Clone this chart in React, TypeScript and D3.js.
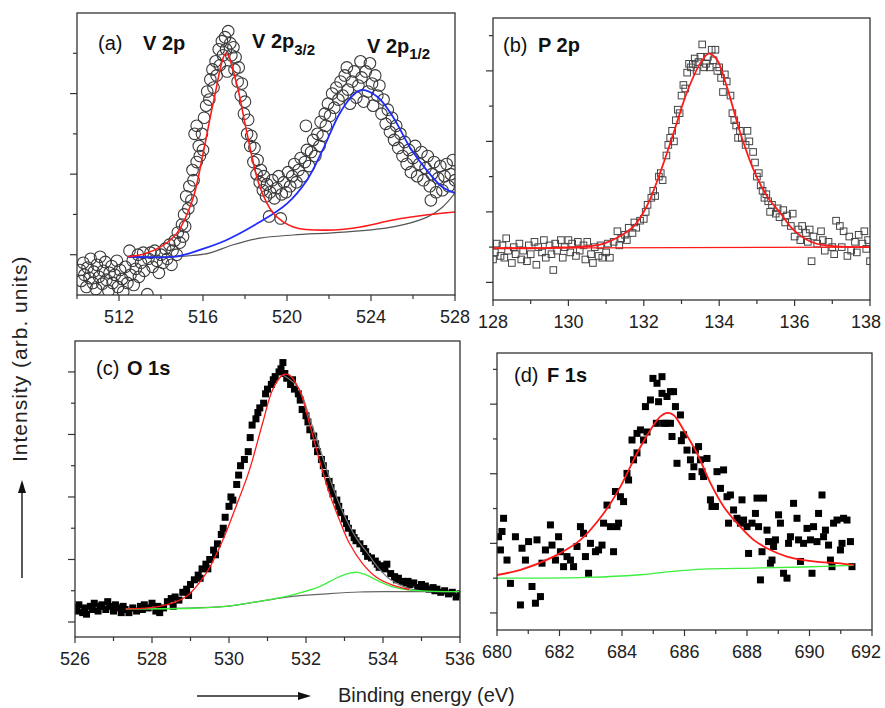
import React from "react";
import * as d3 from "d3";

type Pt = [number, number];

// ---- (a) V 2p ----
const A_X_MAJOR = [512, 516, 520, 524, 528];
const A_X_MINOR = [510, 514, 518, 522, 526];
const A_Y_MAJOR = [1, 3, 5];
const A_Y_MINOR = [2, 4, 6];
const A_POINTS: Pt[] = [
  [510.15, 0.62], [510.2, 0.35], [510.3, 0.8], [510.35, 0.5], [510.45, 0.2], [510.5, 0.68], [510.6, 0.42], [510.65, 0.9],
  [510.75, 0.3], [510.8, 0.58], [510.9, 0.15], [510.95, 0.75], [511.05, 0.45], [511.1, 0.95], [511.2, 0.28], [511.25, 0.6],
  [511.35, 0.82], [511.4, 0.38], [511.5, 0.1], [511.55, 0.55], [511.65, 0.72], [511.7, 0.3], [511.8, 0.5], [511.9, 0.85],
  [511.95, 0.2], [512.05, 0.62], [512.15, 0.4], [512.2, 0.08], [512.3, 0.7], [512.4, 0.3], [512.5, 1.1], [512.55, 0.5],
  [512.65, 0.85], [512.7, 0.25], [512.8, 0.65], [512.9, 1.0], [512.95, 0.45], [513.05, 0.8], [513.15, 1.05], [513.2, 0.6],
  [513.35, 0.02], [513.4, 0.9], [513.5, 1.05], [513.6, 0.7], [513.7, 1.1], [513.8, 0.85], [513.9, 0.55], [514.0, 1.0],
  [514.1, 0.8], [514.2, 1.15], [514.3, 0.9], [514.4, 1.25], [514.5, 0.75], [514.55, 1.1], [514.65, 1.35], [514.75, 1.0],
  [514.8, 1.55], [514.9, 1.3], [515.0, 1.75], [515.05, 1.45],
  [515.1, 2.0], [515.15, 1.7], [515.2, 2.45], [515.3, 2.15], [515.35, 2.7], [515.45, 2.35], [515.5, 3.1], [515.55, 2.85],
  [515.6, 4.0], [515.7, 4.2], [515.7, 3.3], [515.8, 3.7], [515.85, 3.45], [515.95, 4.0], [516.0, 3.6], [516.05, 4.4],
  [516.15, 4.7], [516.2, 5.05], [516.3, 4.85], [516.35, 5.35], [516.45, 5.6], [516.5, 5.15], [516.6, 5.8], [516.65, 5.45],
  [516.75, 6.1], [516.8, 5.7], [516.9, 6.3], [516.95, 5.95], [517.05, 6.4], [517.1, 6.1], [517.15, 5.55], [517.2, 6.55],
  [517.3, 6.25], [517.35, 5.95],
  [517.45, 6.15], [517.5, 5.6], [517.55, 5.9], [517.65, 5.3], [517.7, 5.65], [517.8, 4.95], [517.85, 5.25], [517.95, 4.5],
  [518.0, 4.8], [518.1, 4.0], [518.15, 4.35], [518.25, 3.7], [518.3, 3.95], [518.4, 3.3], [518.45, 3.65], [518.55, 3.0],
  [518.6, 3.35], [518.7, 2.8], [518.75, 3.1], [518.85, 2.6], [518.9, 2.95], [519.0, 2.45], [519.05, 2.75], [519.15, 1.95],
  [519.2, 2.55], [519.3, 2.85], [519.4, 2.4], [519.5, 2.65], [519.6, 2.95], [519.7, 1.9], [519.75, 2.5], [519.85, 2.8],
  [519.95, 2.55], [520.05, 3.05], [520.15, 2.7], [520.25, 2.95], [520.35, 3.25], [520.45, 2.8], [520.55, 3.1], [520.65, 3.4],
  [520.75, 2.95], [520.85, 3.3], [520.9, 4.2], [520.95, 3.6], [521.05, 3.2], [521.15, 3.55], [521.25, 3.85], [521.35, 3.45],
  [521.45, 4.0], [521.55, 3.7], [521.6, 4.3], [521.7, 3.95], [521.8, 4.5], [521.85, 4.2], [521.95, 4.75], [522.05, 4.45],
  [522.15, 5.0], [522.25, 4.65], [522.35, 5.15], [522.45, 4.85], [522.55, 5.3], [522.65, 4.95], [522.75, 5.45], [522.85, 5.65],
  [522.9, 5.1], [523.0, 4.75], [523.1, 5.3], [523.2, 5.55], [523.3, 4.9], [523.4, 5.2], [523.5, 5.8], [523.55, 5.4],
  [523.65, 4.8], [523.75, 5.55], [523.85, 5.05], [523.95, 5.75], [524.05, 5.25], [524.1, 4.7], [524.2, 5.45], [524.3, 4.95],
  [524.4, 5.2], [524.5, 4.5], [524.6, 4.85], [524.7, 4.25], [524.8, 4.6], [524.9, 4.05], [525.0, 4.4], [525.1, 3.85],
  [525.2, 4.2], [525.3, 3.65], [525.4, 4.0], [525.5, 3.45], [525.6, 3.8], [525.7, 3.25], [525.8, 3.6], [525.9, 3.05],
  [526.0, 3.4], [526.1, 3.7], [526.2, 2.95], [526.3, 3.25], [526.4, 3.55], [526.5, 2.85], [526.6, 3.15], [526.7, 3.45],
  [526.8, 2.7], [526.85, 2.35], [526.9, 3.0], [527.0, 3.3], [527.1, 2.55], [527.2, 2.9], [527.3, 3.2], [527.4, 2.6],
  [527.5, 2.95], [527.6, 3.25], [527.7, 2.7], [527.8, 3.0], [527.9, 3.35], [528.0, 2.85],
];
const A_FIT_32: Pt[] = [
  [512.4, 0.95], [513.2, 1.02], [514.0, 1.2], [514.75, 1.53], [515.5, 2.36], [516.0, 3.5], [516.5, 4.8], [517.1, 6.0],
  [517.6, 5.25], [518.1, 4.0], [518.7, 2.7], [519.35, 2.03], [520.3, 1.69], [521.9, 1.61], [523.5, 1.69], [525.05, 1.86],
  [526.7, 1.99], [528.0, 2.06],
];
const A_FIT_12: Pt[] = [
  [512.4, 0.95], [514.75, 0.96], [515.85, 1.12], [517.1, 1.36], [518.7, 1.81], [520.0, 2.27], [520.95, 2.85], [521.7, 3.6],
  [522.5, 4.5], [523.15, 4.96], [523.55, 5.09], [524.3, 4.92], [525.05, 4.42], [525.85, 3.67], [526.65, 3.1], [527.4, 2.68],
  [528.0, 2.53],
];
const A_BG: Pt[] = [
  [512.4, 0.95], [515.0, 0.96], [516.3, 1.04], [517.4, 1.24], [518.7, 1.41], [520.3, 1.49], [522.7, 1.56], [525.05, 1.69],
  [526.7, 1.94], [527.4, 2.18], [528.0, 2.53],
];

// ---- (b) P 2p ----
const B_X_MAJOR = [128, 130, 132, 134, 136, 138];
const B_X_MINOR = [129, 131, 133, 135, 137];
const B_Y_MAJOR = [-1, 1, 3, 5];
const B_Y_MINOR = [0, 2, 4, 6];
const B_POINTS: Pt[] = [
  [128.0, -0.35], [128.05, -0.15], [128.1, 0.1], [128.2, -0.25], [128.25, 0.05], [128.3, -0.3], [128.35, 0.25], [128.4, -0.1],
  [128.5, -0.45], [128.55, 0.0], [128.6, -0.2], [128.7, 0.1], [128.75, -0.35], [128.8, -0.1], [128.9, -0.4], [128.95, 0.05],
  [129.0, -0.2], [129.1, 0.15], [129.15, -0.5], [129.2, 0.0], [129.3, -0.15], [129.35, 0.2], [129.4, -0.3], [129.5, 0.05],
  [129.55, -0.2], [129.6, -0.65], [129.65, 0.1], [129.7, -0.1], [129.8, 0.2], [129.85, -0.3], [129.9, 0.0], [130.0, 0.2],
  [130.05, -0.15], [130.1, 0.1], [130.2, -0.25], [130.25, 0.15], [130.3, -0.1], [130.4, 0.05], [130.45, -0.35], [130.5, 0.15],
  [130.6, -0.2], [130.65, -0.45], [130.7, 0.0], [130.8, -0.25], [130.85, 0.05], [130.9, -0.3], [131.0, -0.15], [131.05, 0.1],
  [131.1, -0.3], [131.2, 0.15], [131.3, 0.45], [131.35, 0.05], [131.4, 0.25], [131.5, 0.35], [131.55, 0.2], [131.6, 0.55],
  [131.7, 0.4], [131.75, 0.7], [131.8, 0.55], [131.9, 0.75], [132.0, 0.8], [132.05, 1.0], [132.1, 1.2], [132.2, 1.4],
  [132.25, 1.6], [132.3, 1.45], [132.4, 2.0], [132.45, 2.1], [132.5, 1.9], [132.6, 2.6], [132.65, 2.9], [132.7, 3.1],
  [132.75, 3.3], [132.8, 3.0], [132.85, 3.6], [132.9, 3.9], [132.95, 3.8], [133.0, 4.3], [133.05, 4.6], [133.1, 4.5],
  [133.15, 4.95], [133.2, 5.2], [133.25, 5.1], [133.3, 5.2], [133.35, 5.35], [133.4, 5.0], [133.45, 5.25], [133.5, 5.4],
  [133.55, 5.75], [133.6, 5.1], [133.65, 5.2], [133.7, 5.4], [133.75, 5.1], [133.8, 5.6], [133.85, 5.3], [133.9, 5.6],
  [133.95, 5.0], [134.0, 5.1], [134.05, 4.8], [134.1, 4.4], [134.15, 4.9], [134.2, 4.7], [134.3, 4.3], [134.35, 3.8],
  [134.4, 3.6], [134.45, 3.45], [134.5, 3.1], [134.55, 3.3], [134.6, 3.1], [134.7, 2.9], [134.75, 3.3], [134.8, 3.0],
  [134.9, 2.7], [134.95, 2.4], [135.0, 2.0], [135.05, 2.1], [135.1, 1.75], [135.15, 1.6], [135.2, 1.4], [135.25, 1.5],
  [135.3, 1.3], [135.35, 1.0], [135.4, 1.2], [135.5, 0.95], [135.55, 1.1], [135.6, 0.85], [135.7, 1.05], [135.75, 0.7],
  [135.8, 0.9], [135.9, 0.6], [135.95, 0.95], [136.0, 0.3], [136.1, 0.5], [136.15, 0.2], [136.2, 0.6], [136.3, 0.4],
  [136.35, 0.15], [136.4, 0.5], [136.45, -0.4], [136.5, 0.3], [136.6, 0.1], [136.7, 0.45], [136.75, 0.2], [136.8, -0.1],
  [136.9, 0.15], [137.0, 0.0], [137.05, -0.2], [137.1, 0.75], [137.2, 0.6], [137.25, 0.0], [137.3, 0.45], [137.4, -0.25],
  [137.45, 0.3], [137.5, -0.1], [137.6, 0.15], [137.65, -0.15], [137.7, 0.35], [137.8, 0.1], [137.85, 0.45], [137.9, -0.05],
  [137.95, 0.2], [138.0, -0.4],
];
const B_FIT: Pt[] = [
  [128.0, -0.03], [129.5, -0.02], [130.84, 0.07], [131.28, 0.26], [131.73, 0.59], [132.08, 1.16], [132.43, 2.1],
  [132.79, 3.24], [133.14, 4.38], [133.5, 5.22], [133.72, 5.49], [133.94, 5.32], [134.2, 4.56], [134.56, 3.24],
  [134.91, 2.2], [135.27, 1.44], [135.62, 0.97], [135.97, 0.49], [136.42, 0.16], [136.86, 0.04], [138.0, 0.0],
];
const B_BASE: Pt[] = [[128.0, -0.03], [138.0, 0.0]];

// ---- (c) O 1s ----
const C_X_MAJOR = [526, 528, 530, 532, 534, 536];
const C_X_MINOR = [527, 529, 531, 533, 535];
const C_Y_MAJOR = [0, 2, 4, 6, 8];
const C_Y_MINOR = [1, 3, 5, 7];
const C_POINTS: Pt[] = [
  [526.0, 0.45], [526.05, 0.35], [526.1, 0.55], [526.2, 0.3], [526.25, 0.45], [526.3, 0.25], [526.4, 0.5], [526.45, 0.4],
  [526.5, 0.6], [526.6, 0.35], [526.65, 0.5], [526.7, 0.55], [526.8, 0.4], [526.85, 0.65], [526.9, 0.5], [527.0, 0.35],
  [527.05, 0.55], [527.1, 0.45], [527.2, 0.3], [527.25, 0.5], [527.3, 0.4], [527.4, 0.3], [527.5, 0.45], [527.6, 0.35],
  [527.7, 0.5], [527.75, 0.4], [527.8, 0.55], [527.9, 0.45], [528.0, 0.6], [528.1, 0.35], [528.15, 0.5], [528.2, 0.3],
  [528.3, 0.45], [528.4, 0.65], [528.5, 0.75], [528.55, 0.5], [528.6, 0.8], [528.7, 0.7], [528.8, 0.95], [528.9, 1.05],
  [528.95, 0.85], [529.0, 1.2], [529.1, 1.35], [529.2, 1.5], [529.25, 1.4], [529.3, 1.7], [529.4, 1.85], [529.45, 1.7],
  [529.5, 2.0], [529.6, 2.3], [529.65, 2.15], [529.7, 2.5], [529.8, 2.8], [529.85, 3.0], [529.9, 3.35], [530.0, 3.7],
  [530.05, 4.0], [530.1, 3.9], [530.2, 4.4], [530.25, 4.7], [530.3, 5.0], [530.4, 5.2], [530.5, 5.45], [530.55, 5.9],
  [530.6, 6.3], [530.7, 6.5], [530.75, 6.7], [530.8, 6.85], [530.9, 7.0], [530.95, 7.3], [531.0, 7.45], [531.1, 7.6],
  [531.15, 7.75], [531.2, 7.85], [531.3, 8.0], [531.35, 8.1], [531.4, 8.3], [531.45, 7.95], [531.5, 7.8], [531.6, 7.6],
  [531.65, 7.75], [531.7, 7.45], [531.8, 7.3], [531.85, 7.1], [531.9, 6.8], [532.0, 6.6], [532.05, 6.4], [532.1, 6.15],
  [532.2, 5.95], [532.25, 5.7], [532.3, 5.45], [532.4, 5.2], [532.45, 5.0], [532.5, 4.75], [532.6, 4.5], [532.65, 4.3],
  [532.7, 4.1], [532.8, 3.9], [532.85, 3.7], [532.9, 3.5], [533.0, 3.3], [533.05, 3.15], [533.1, 3.0], [533.2, 2.85],
  [533.25, 2.7], [533.3, 2.6], [533.4, 2.5], [533.5, 2.35], [533.55, 2.25], [533.6, 2.1], [533.7, 2.05], [533.8, 1.95],
  [533.85, 1.85], [533.9, 1.75], [534.0, 1.8], [534.05, 1.7], [534.1, 1.85], [534.2, 1.55], [534.3, 1.45], [534.35, 1.35],
  [534.4, 1.4], [534.5, 1.3], [534.6, 1.25], [534.65, 1.3], [534.7, 1.2], [534.8, 1.25], [534.9, 1.1], [535.0, 1.2],
  [535.05, 1.1], [535.1, 1.15], [535.2, 1.05], [535.3, 1.1], [535.35, 1.0], [535.4, 1.05], [535.5, 0.95], [535.6, 1.0],
  [535.7, 0.9], [535.8, 0.95], [535.9, 0.8], [536.0, 0.9],
];
const C_FIT_MAIN: Pt[] = [
  [527.32, 0.42], [528.19, 0.5], [528.88, 0.81], [529.4, 1.55], [529.84, 2.62], [530.18, 3.69], [530.53, 4.86],
  [530.87, 6.35], [531.13, 7.42], [531.39, 7.9], [531.57, 7.9], [531.83, 7.42], [532.09, 6.35], [532.35, 5.18],
  [532.61, 4.11], [532.87, 3.26], [533.13, 2.51], [533.47, 1.87], [533.82, 1.44], [534.25, 1.18], [534.68, 1.04],
];
const C_FIT_MINOR: Pt[] = [
  [527.32, 0.42], [529.06, 0.44], [529.92, 0.5], [530.79, 0.66], [531.65, 0.87], [532.35, 1.13], [532.78, 1.4],
  [533.13, 1.56], [533.34, 1.59], [533.56, 1.51], [533.9, 1.3], [534.25, 1.12], [534.68, 1.02], [535.98, 0.97],
];
const C_BG: Pt[] = [
  [527.32, 0.42], [529.92, 0.5], [530.79, 0.66], [531.65, 0.82], [532.52, 0.9], [533.39, 0.96], [534.25, 0.97],
  [535.98, 0.97],
];
const C_SUM: Pt[] = [
  [531.4, 7.9], [531.8, 7.5], [532.1, 6.5], [532.4, 5.4], [532.7, 4.3], [533.0, 3.4], [533.3, 2.7], [533.6, 2.2],
  [533.9, 1.7], [534.2, 1.35], [534.6, 1.1], [535.0, 1.0],
];

// ---- (d) F 1s ----
const D_X_MAJOR = [680, 682, 684, 686, 688, 690, 692];
const D_X_MINOR = [681, 683, 685, 687, 689, 691];
const D_Y_MAJOR = [0, 2, 4, 6];
const D_Y_MINOR = [1, 3, 5, 7];
const D_POINTS: Pt[] = [
  [680.05, 2.19], [680.21, 2.72], [680.16, 2.34], [680.11, 1.81], [680.32, 1.52], [680.43, 0.85], [680.59, 2.19],
  [680.75, 0.23], [680.8, 1.86], [680.91, 1.52], [681.01, 2.05], [681.12, 0.76], [681.23, 0.28], [681.28, 2.1],
  [681.39, 0.47], [681.44, 1.43], [681.55, 1.81], [681.71, 2.53], [681.76, 1.95], [681.87, 1.52], [681.97, 2.19],
  [682.03, 1.76], [682.13, 1.33], [682.24, 1.62], [682.35, 1.52], [682.45, 1.33], [682.56, 1.91], [682.67, 2.48],
  [682.77, 2.29], [682.83, 1.62], [682.93, 1.14], [682.99, 2.0], [683.15, 1.76], [683.25, 1.81], [683.36, 1.95],
  [683.41, 2.58], [683.52, 3.1], [683.63, 2.48], [683.73, 1.76], [683.84, 2.48], [683.89, 2.58], [683.79, 3.49],
  [683.95, 3.34], [684.05, 3.2], [684.16, 4.01], [684.21, 3.82], [684.37, 4.4], [684.32, 4.97], [684.48, 5.16],
  [684.48, 4.6], [684.59, 5.26], [684.69, 4.97], [684.75, 5.93], [684.8, 5.2], [684.91, 6.12], [684.99, 6.74],
  [685.1, 5.45], [685.12, 6.6], [685.17, 6.07], [685.28, 6.79], [685.28, 6.31], [685.33, 5.45], [685.4, 5.45],
  [685.44, 6.22], [685.55, 6.36], [685.55, 5.45], [685.65, 6.36], [685.71, 5.93], [685.6, 5.07], [685.87, 5.69],
  [685.9, 4.95], [685.97, 5.12], [685.76, 4.3], [686.08, 4.68], [686.19, 4.4], [686.24, 3.92], [686.3, 4.2],
  [686.35, 4.68], [686.45, 4.78], [686.51, 4.4], [686.61, 3.92], [686.72, 4.44], [686.56, 4.06], [686.83, 3.25],
  [686.88, 3.06], [686.99, 3.06], [687.04, 4.06], [687.15, 3.58], [687.25, 4.11], [687.36, 3.34], [687.41, 2.58],
  [687.47, 3.39], [687.57, 2.96], [687.68, 2.72], [687.79, 2.58], [687.84, 3.25], [687.89, 2.67], [688.0, 2.48],
  [688.05, 1.71], [688.16, 2.58], [688.27, 2.86], [688.32, 3.3], [688.37, 2.48], [688.43, 0.95], [688.48, 1.76],
  [688.53, 3.3], [688.64, 2.38], [688.69, 2.05], [688.75, 1.43], [688.8, 1.52], [688.85, 1.91], [688.91, 2.1],
  [689.01, 2.82], [689.07, 2.58], [689.17, 1.14], [689.28, 1.0], [689.33, 2.0], [689.39, 2.19], [689.49, 3.15],
  [689.6, 2.72], [689.65, 2.1], [689.71, 1.48], [689.81, 2.0], [689.92, 2.43], [690.03, 2.1], [690.08, 1.14],
  [690.13, 2.48], [690.24, 2.05], [690.29, 2.86], [690.4, 3.39], [690.45, 2.19], [690.51, 2.38], [690.61, 1.95],
  [690.67, 1.52], [690.72, 1.33], [690.77, 2.58], [690.88, 2.67], [690.99, 1.81], [691.04, 2.0], [691.09, 2.72],
  [691.2, 2.67], [691.31, 2.05], [691.36, 1.33],
];
const D_FIT: Pt[] = [
  [680.0, 1.09], [680.75, 1.24], [681.81, 1.62], [682.67, 2.1], [683.41, 2.86], [683.95, 3.63], [684.48, 4.59],
  [684.91, 5.26], [685.23, 5.65], [685.44, 5.75], [685.65, 5.69], [685.97, 5.26], [686.4, 4.59], [686.83, 3.73],
  [687.25, 3.06], [687.68, 2.58], [688.21, 2.1], [688.75, 1.81], [689.28, 1.62], [689.81, 1.52], [690.35, 1.46],
  [690.88, 1.43], [691.41, 1.38],
];
const D_BG: Pt[] = [
  [680.0, 1.0], [681.28, 1.0], [682.88, 1.02], [684.48, 1.09], [685.55, 1.19], [686.61, 1.26], [688.21, 1.29],
  [689.81, 1.32], [691.41, 1.37],
];

const FONT = "'Liberation Sans', Arial, Helvetica, sans-serif";
const RED = "#ff1a1a";
const BLUE = "#1f2bff";
const GREEN = "#3cf03c";
const GRAY = "#555555";
const W = 885;
const H = 708;

type Frame = { l: number; r: number; t: number; b: number };
type LineSpec = { data: Pt[]; color: string; width: number };

function Panel(props: {
  id: string;
  f: Frame;
  xd: [number, number];
  yd: [number, number];
  xMajor: number[];
  xMinor: number[];
  yMajor: number[];
  yMinor: number[];
  points: Pt[];
  symbol: "circle" | "square" | "filled";
  lines: LineSpec[];
  children?: React.ReactNode;
}) {
  const { id, f, xd, yd, xMajor, xMinor, yMajor, yMinor, points, symbol, lines } = props;
  const x = d3.scaleLinear().domain(xd).range([f.l, f.r]);
  const y = d3.scaleLinear().domain(yd).range([f.b, f.t]);
  const line = d3
    .line<Pt>()
    .x((d) => x(d[0]))
    .y((d) => y(d[1]))
    .curve(d3.curveCatmullRom.alpha(0.5));

  const mark = (d: Pt, i: number) => {
    const cx = x(d[0]);
    const cy = y(d[1]);
    if (symbol === "circle")
      return <circle key={i} cx={cx} cy={cy} r={5.8} fill="none" stroke="#3a3a3a" strokeWidth={1.1} />;
    if (symbol === "square")
      return <rect key={i} x={cx - 3.3} y={cy - 3.3} width={6.6} height={6.6} fill="none" stroke="#444" strokeWidth={1} />;
    return <rect key={i} x={cx - 3.5} y={cy - 3.5} width={7} height={7} fill="#000" />;
  };

  return (
    <g>
      <defs>
        <clipPath id={id}>
          <rect x={f.l} y={f.t} width={f.r - f.l} height={f.b - f.t} />
        </clipPath>
      </defs>
      <g clipPath={`url(#${id})`}>
        {points.map(mark)}
        {lines.map((ln, i) => (
          <path key={i} d={line(ln.data) || ""} fill="none" stroke={ln.color} strokeWidth={ln.width} />
        ))}
      </g>
      <rect x={f.l} y={f.t} width={f.r - f.l} height={f.b - f.t} fill="none" stroke="#333" strokeWidth={1.3} />
      {xMajor.map((v) => (
        <g key={"xm" + v}>
          <line x1={x(v)} x2={x(v)} y1={f.b} y2={f.b + 6} stroke="#333" strokeWidth={1.2} />
          {/* keep the last label inside the page, as in the original */}
          <text x={Math.min(x(v), W - 19)} y={f.b + 28} textAnchor="middle" fontSize={18} fontFamily={FONT} fill="#222">
            {v}
          </text>
        </g>
      ))}
      {xMinor.map((v) => (
        <line key={"xn" + v} x1={x(v)} x2={x(v)} y1={f.b} y2={f.b + 4} stroke="#333" strokeWidth={1.2} />
      ))}
      {yMajor.map((v) => (
        <line key={"ym" + v} x1={f.l - 7} x2={f.l} y1={y(v)} y2={y(v)} stroke="#333" strokeWidth={1.2} />
      ))}
      {yMinor.map((v) => (
        <line key={"yn" + v} x1={f.l - 4} x2={f.l} y1={y(v)} y2={y(v)} stroke="#333" strokeWidth={1.2} />
      ))}
      {props.children}
    </g>
  );
}

const lbl = { fontFamily: FONT, fontSize: 20, fill: "#111" } as const;

export default function App() {
  return (
    <svg
      width={W}
      height={H}
      style={{ position: "absolute", left: 0, top: 0, background: "#fff" }}
      fontFamily={FONT}
    >
      <rect width={W} height={H} fill="#fff" />
      <Panel
        id="clipA"
        f={{ l: 77, r: 455, t: 13, b: 295 }}
        xd={[510, 528]}
        yd={[0, 7]}
        xMajor={A_X_MAJOR}
        xMinor={A_X_MINOR}
        yMajor={A_Y_MAJOR}
        yMinor={A_Y_MINOR}
        points={A_POINTS}
        symbol="circle"
        lines={[
          { data: A_BG, color: GRAY, width: 1.2 },
          { data: A_FIT_12, color: BLUE, width: 1.8 },
          { data: A_FIT_32, color: RED, width: 1.6 },
        ]}
      >
        <text x={98} y={50} {...lbl}>(a)</text>
        <text x={143} y={50} {...lbl} fontWeight="bold">V 2p</text>
        <text x={252} y={48} {...lbl} fontWeight="bold">
          V 2p<tspan fontSize={15} dy={7}>3/2</tspan>
        </text>
        <text x={367} y={53} {...lbl} fontWeight="bold">
          V 2p<tspan fontSize={15} dy={6}>1/2</tspan>
        </text>
      </Panel>
      <Panel
        id="clipB"
        f={{ l: 493, r: 870, t: 18, b: 300 }}
        xd={[128, 138]}
        yd={[-1.5, 6.5]}
        xMajor={B_X_MAJOR}
        xMinor={B_X_MINOR}
        yMajor={B_Y_MAJOR}
        yMinor={B_Y_MINOR}
        points={B_POINTS}
        symbol="square"
        lines={[
          { data: B_BASE, color: RED, width: 1.3 },
          { data: B_FIT, color: RED, width: 1.8 },
        ]}
      >
        <text x={503} y={52} {...lbl}>(b)</text>
        <text x={538} y={52} {...lbl} fontWeight="bold">P 2p</text>
      </Panel>
      <Panel
        id="clipC"
        f={{ l: 75, r: 460, t: 341, b: 637 }}
        xd={[526, 536]}
        yd={[-0.48, 8.99]}
        xMajor={C_X_MAJOR}
        xMinor={C_X_MINOR}
        yMajor={C_Y_MAJOR}
        yMinor={C_Y_MINOR}
        points={C_POINTS}
        symbol="filled"
        lines={[
          { data: C_SUM, color: "#777", width: 1.2 },
          { data: C_BG, color: "#666", width: 1.2 },
          { data: C_FIT_MINOR, color: GREEN, width: 1.3 },
          { data: C_FIT_MAIN, color: RED, width: 1.3 },
        ]}
      >
        <text x={96} y={375} {...lbl}>(c)</text>
        <text x={127} y={375} {...lbl} fontWeight="bold">O 1s</text>
      </Panel>
      <Panel
        id="clipD"
        f={{ l: 497, r: 872, t: 353, b: 630 }}
        xd={[680, 692]}
        yd={[-0.49, 7.47]}
        xMajor={D_X_MAJOR}
        xMinor={D_X_MINOR}
        yMajor={D_Y_MAJOR}
        yMinor={D_Y_MINOR}
        points={D_POINTS}
        symbol="filled"
        lines={[
          { data: D_BG, color: GREEN, width: 1.3 },
          { data: D_FIT, color: RED, width: 1.8 },
        ]}
      >
        <text x={514} y={382} {...lbl}>(d)</text>
        <text x={547} y={382} {...lbl} fontWeight="bold">F 1s</text>
      </Panel>

      {/* axis titles and arrows */}
      <text
        transform="translate(27,462) rotate(-90)"
        fontSize={21}
        letterSpacing={1}
        fontFamily={FONT}
        fill="#222"
      >
        Intensity (arb. units)
      </text>
      <line x1={22} x2={22} y1={578} y2={490} stroke="#222" strokeWidth={1.5} />
      <path d="M22,480 L18,493 L26,493 Z" fill="#111" />
      <text x={338} y={702} fontSize={20} fontFamily={FONT} fill="#222">
        Binding energy (eV)
      </text>
      <line x1={197} x2={300} y1={696} y2={696} stroke="#222" strokeWidth={1.5} />
      <path d="M311,696 L298,692 L298,700 Z" fill="#111" />
    </svg>
  );
}
